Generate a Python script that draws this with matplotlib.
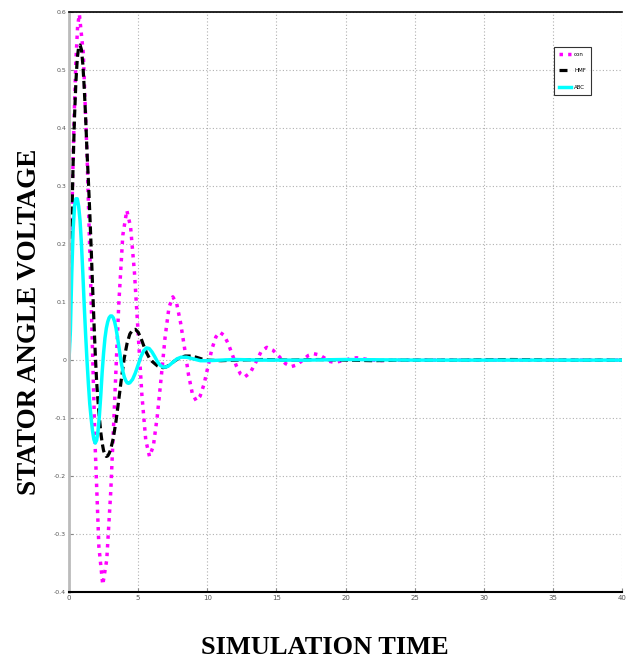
import matplotlib
matplotlib.use("Agg")
import matplotlib.pyplot as plt

# curva "con" (magenta punteada)
con_t = [0, 0.125, 0.25, 0.375, 0.5, 0.625, 0.75, 1.03, 1.31, 1.60, 1.88, 2.16, 2.44,
         2.73, 3.02, 3.31, 3.60, 3.89, 4.18, 4.45, 4.73, 5.00, 5.27, 5.55, 5.82,
         6.10, 6.38, 6.67, 6.95, 7.23, 7.51, 7.79, 8.07, 8.36, 8.64, 8.92, 9.20,
         9.48, 9.77, 10.05, 10.33, 10.62, 10.90, 11.2, 11.5, 11.8, 12.1, 12.4, 12.7,
         13.1, 13.5, 13.9, 14.3, 14.75, 15.2, 15.65, 16.1, 16.5, 16.9, 17.3, 17.7,
         18.1, 18.45, 18.8, 19.2, 19.6, 20.0, 20.4, 20.8, 21.6, 22.4, 23.5, 25,
         28, 32, 36, 40]
con_y = [0, 0.154, 0.298, 0.421, 0.516, 0.576, 0.596, 0.530, 0.350, 0.105, -0.141, -0.321, -0.387,
         -0.344, -0.226, -0.065, 0.097, 0.215, 0.258, 0.230, 0.152, 0.046, -0.060, -0.138, -0.166,
         -0.148, -0.097, -0.029, 0.040, 0.091, 0.109, 0.097, 0.064, 0.020, -0.025, -0.058, -0.070,
         -0.062, -0.041, -0.011, 0.019, 0.040, 0.048, 0.043, 0.029, 0.010, -0.010, -0.024, -0.029,
         -0.022, -0.004, 0.015, 0.022, 0.017, 0.006, -0.006, -0.011, -0.008, 0.000, 0.008, 0.011,
         0.009, 0.004, -0.002, -0.004, -0.002, 0.000, 0.003, 0.004, 0.001, -0.001, 0.000, 0.000,
         0.000, 0.000, 0.000, 0.000]

# curva "HMF" (negra discontinua)
hmf_t = [0, 0.1, 0.2, 0.3, 0.4, 0.5, 0.6, 0.7, 0.8, 0.9, 1.0, 1.1, 1.2, 1.3, 1.4, 1.5,
         1.6, 1.7, 1.8, 1.9, 2.0, 2.1, 2.2, 2.3, 2.4, 2.5, 2.6, 2.7, 2.8, 2.9, 3.0,
         3.2, 3.4, 3.6, 3.8, 4.0, 4.2, 4.4, 4.6, 4.8, 5.0, 5.2, 5.4, 5.6, 5.8, 6.0,
         6.2, 6.4, 6.6, 6.8, 7.0, 7.3, 7.6, 8.0, 8.4, 8.8, 9.2, 9.6, 10, 11, 12, 14,
         16, 18, 20, 22, 24, 28, 32, 36, 40]
hmf_y = [0, 0.12, 0.24, 0.34, 0.42, 0.48, 0.52, 0.54, 0.543, 0.535, 0.51, 0.47, 0.42, 0.36,
         0.31, 0.255, 0.195, 0.13, 0.068, 0.01, -0.038, -0.072, -0.1, -0.125, -0.143, -0.156,
         -0.163, -0.166, -0.165, -0.161, -0.155, -0.135, -0.105, -0.068, -0.03, 0.004, 0.029,
         0.045, 0.052, 0.053, 0.048, 0.038, 0.025, 0.013, 0.004, -0.002, -0.006, -0.010,
         -0.012, -0.013, -0.012, -0.008, -0.002, 0.004, 0.007, 0.007, 0.005, 0.002, 0.0,
         -0.001, 0.0, 0.001, 0.0, 0.001, 0.0, -0.001, 0.0, 0.0, 0.001, 0.0, 0.0]

# curva "ABC" (cian continua)
abc_t = [0, 0.1, 0.2, 0.3, 0.4, 0.5, 0.6, 0.7, 0.8, 0.9, 1.0, 1.1, 1.2, 1.3, 1.4, 1.5,
         1.6, 1.7, 1.8, 1.9, 2.0, 2.1, 2.2, 2.3, 2.4, 2.5, 2.6, 2.7, 2.8, 2.9, 3.0,
         3.1, 3.2, 3.3, 3.4, 3.5, 3.6, 3.7, 3.8, 3.9, 4.0, 4.1, 4.2, 4.3, 4.4, 4.6,
         4.8, 5.0, 5.2, 5.4, 5.6, 5.8, 6.0, 6.2, 6.4, 6.6, 6.8, 7.0, 7.2, 7.5, 7.8,
         8.1, 8.5, 9.0, 9.5, 10, 11, 12, 14, 17, 20, 25, 30, 35, 40]
abc_y = [0, 0.05, 0.15, 0.225, 0.265, 0.278, 0.278, 0.265, 0.24, 0.2, 0.15, 0.095, 0.045,
         0.0, -0.04, -0.075, -0.1, -0.122, -0.137, -0.143, -0.138, -0.122, -0.095, -0.06,
         -0.02, 0.012, 0.038, 0.055, 0.066, 0.073, 0.076, 0.076, 0.073, 0.066, 0.055, 0.04,
         0.024, 0.008, -0.007, -0.02, -0.029, -0.035, -0.039, -0.040, -0.039, -0.033, -0.022,
         -0.008, 0.006, 0.016, 0.021, 0.020, 0.014, 0.006, -0.003, -0.009, -0.012, -0.012,
         -0.010, -0.004, 0.002, 0.005, 0.005, 0.002, -0.001, -0.001, 0.0, 0.001, 0.0, 0.0,
         0.001, 0.0, 0.0, 0.0, 0.0]

x_ticks = [0, 5, 10, 15, 20, 25, 30, 35, 40]
y_ticks = [-0.4, -0.3, -0.2, -0.1, 0, 0.1, 0.2, 0.3, 0.4, 0.5, 0.6]

fig = plt.figure(figsize=(6.33, 6.61), dpi=100)
ax = fig.add_axes([0.109, 0.104, 0.874, 0.878])

ax.plot(con_t, con_y, color='#ff00ff', linestyle=(0, (1, 1.5)), linewidth=2.5, label='con')
ax.plot(hmf_t, hmf_y, color='black', linestyle=(0, (2.5, 1.3)), linewidth=2.3, label='HMF')
ax.plot(abc_t, abc_y, color='#00ffff', linestyle='-', linewidth=2.5, label='ABC')

ax.set_xlim(0, 40)
ax.set_ylim(-0.4, 0.6)
ax.set_xticks(x_ticks)
ax.set_yticks(y_ticks)
ax.set_xticklabels([str(v) for v in x_ticks], fontsize=5, color='#555555')
ax.set_yticklabels([f"{v:g}" for v in y_ticks], fontsize=4.5, color='#555555')
ax.tick_params(direction='in', length=3, width=0.8, color='#888888', pad=2)

ax.grid(True, color='#b0b0b0', linestyle=(0, (1, 2)), linewidth=0.8)
ax.spines['right'].set_visible(False)
ax.spines['left'].set_color('#bbbbbb')
ax.spines['left'].set_linewidth(2)
ax.spines['bottom'].set_linewidth(1.5)
ax.spines['top'].set_linewidth(1.2)

leg = ax.legend(loc='upper left', bbox_to_anchor=(0.872, 0.945), fontsize=4,
                handlelength=2.2, frameon=True, fancybox=False, borderpad=0.9,
                labelspacing=2.1, handletextpad=0.5)
leg.get_frame().set_edgecolor('black')
leg.get_frame().set_linewidth(0.8)

fig.text(0.047, 0.513, "STATOR ANGLE VOLTAGE", rotation=90, ha='center', va='center',
         fontsize=19.5, fontweight='bold', family='Liberation Serif')
fig.text(0.513, 0.021, "SIMULATION TIME", ha='center', va='center',
         fontsize=19, fontweight='bold', family='Liberation Serif')

fig.savefig("out.png", dpi=100)
